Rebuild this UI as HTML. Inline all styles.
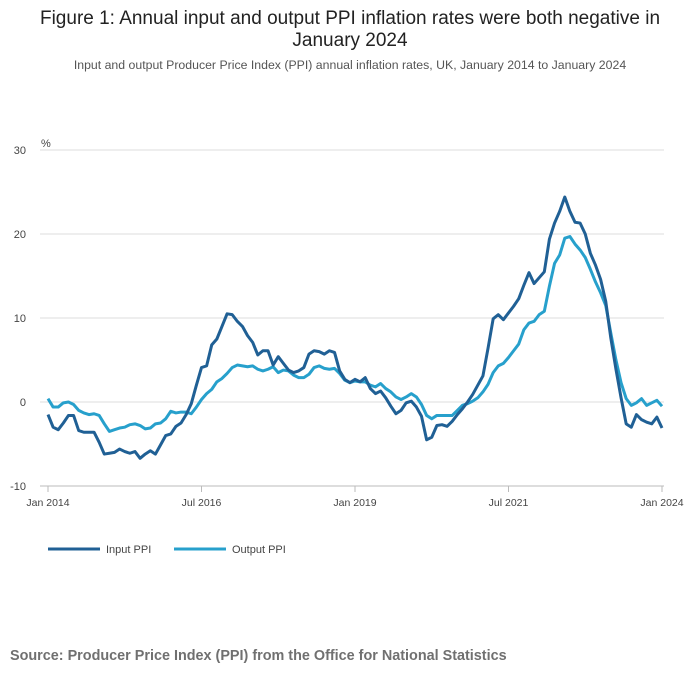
<!DOCTYPE html>
<html><head><meta charset="utf-8">
<style>
body{margin:0;background:#fff;width:700px;height:682px;overflow:hidden;font-family:"Liberation Sans",sans-serif}
</style></head><body>
<svg id="chart" width="700" height="682" xmlns="http://www.w3.org/2000/svg" font-family="Liberation Sans, sans-serif">
<text x="350" y="24" text-anchor="middle" font-size="19" fill="#222">Figure 1: Annual input and output PPI inflation rates were both negative in</text>
<text x="350" y="46" text-anchor="middle" font-size="19" fill="#222">January 2024</text>
<text x="350" y="69" text-anchor="middle" font-size="12.3" fill="#555">Input and output Producer Price Index (PPI) annual inflation rates, UK, January 2014 to January 2024</text>
<text x="41" y="147" font-size="11" fill="#444">%</text>
<g id="grid"></g><g id="xaxis"></g><g id="series"></g>
<g>
<line x1="48" y1="549" x2="100" y2="549" stroke="#206095" stroke-width="3"/>
<text x="106" y="553" font-size="11" fill="#444">Input PPI</text>
<line x1="174" y1="549" x2="226" y2="549" stroke="#27a0cc" stroke-width="3"/>
<text x="232" y="553" font-size="11" fill="#444">Output PPI</text>
</g>
<text x="10" y="660" font-size="14.4" font-weight="bold" fill="#707070">Source: Producer Price Index (PPI) from the Office for National Statistics</text>
</svg>
<script>
const yTicks=[30,20,10,0,-10];
const xTickLabels=["Jan 2014","Jul 2016","Jan 2019","Jul 2021","Jan 2024"];
const xTickMonths=[0,30,60,90,120];
const inputPPI=[-1.5,-3,-3.3,-2.5,-1.6,-1.6,-3.4,-3.6,-3.6,-3.6,-4.8,-6.2,
-6.1,-6.0,-5.6,-5.9,-6.1,-5.9,-6.7,-6.2,-5.8,-6.2,-5.1,-4.0,
-3.8,-2.9,-2.5,-1.5,-0.2,2.0,4.1,4.3,6.8,7.5,9,10.5,
10.4,9.6,9.0,7.9,7.1,5.6,6.1,6.1,4.4,5.4,4.6,3.8,
3.5,3.7,4.1,5.7,6.1,6.0,5.7,6.1,5.9,3.7,2.7,2.3,
2.7,2.4,2.9,1.6,1.0,1.3,0.5,-0.5,-1.4,-1.0,-0.1,0.1,
-0.6,-1.7,-4.5,-4.2,-2.8,-2.7,-2.9,-2.3,-1.5,-0.8,0.0,0.9,
2.0,3.1,6.4,9.9,10.4,9.8,10.6,11.4,12.3,13.9,15.4,14.1,
14.8,15.5,19.4,21.3,22.7,24.4,22.7,21.4,21.3,20.0,17.7,16.3,
14.6,12.0,7.6,3.9,0.5,-2.6,-3.0,-1.5,-2.1,-2.4,-2.6,-1.8,-3.1];
const outputPPI=[0.4,-0.6,-0.6,-0.1,0.0,-0.3,-1.0,-1.3,-1.5,-1.4,-1.6,-2.6,
-3.5,-3.3,-3.1,-3.0,-2.7,-2.6,-2.8,-3.2,-3.1,-2.6,-2.5,-2.0,
-1.1,-1.3,-1.2,-1.2,-1.4,-0.6,0.3,1.0,1.5,2.4,2.8,3.4,
4.1,4.4,4.3,4.2,4.3,3.9,3.7,3.9,4.2,3.5,3.8,3.7,
3.2,2.9,2.9,3.3,4.1,4.3,4.0,3.9,4.0,3.4,2.6,2.3,
2.5,2.4,2.4,2.0,1.8,2.2,1.6,1.2,0.6,0.3,0.6,1.0,
0.6,-0.3,-1.6,-2.0,-1.6,-1.6,-1.6,-1.6,-1.0,-0.4,-0.2,0.1,
0.5,1.2,2.1,3.5,4.3,4.6,5.3,6.1,6.9,8.6,9.4,9.6,
10.4,10.8,13.8,16.5,17.5,19.5,19.7,18.8,18.1,17.2,15.8,14.3,
13.0,11.5,8.2,5.0,2.3,0.4,-0.4,-0.1,0.4,-0.4,-0.1,0.2,-0.5];
const NS="http://www.w3.org/2000/svg";
const x=m=>48+m*(662-48)/120;
const y=v=>402-v*8.4;
function mk(tag,attrs,parent){const e=document.createElementNS(NS,tag);for(const k in attrs)e.setAttribute(k,attrs[k]);parent.appendChild(e);return e;}
const grid=document.getElementById('grid');
yTicks.forEach(t=>{
 const l=mk('line',{x1:40,x2:664,y1:y(t),y2:y(t),stroke:t===-10?'#bbb':'#ddd','stroke-width':1},grid);
 
 
 const tx=mk('text',{x:26,y:y(t)+4,'text-anchor':'end','font-size':11,fill:'#444'},grid);
 tx.textContent=t;
 
 
});
const xa=document.getElementById('xaxis');
xTickMonths.forEach((m,i)=>{
 const l=mk('line',{x1:x(m),x2:x(m),y1:486,y2:492,stroke:'#bbb'},xa);
 
 
 const tx=mk('text',{x:x(m),y:506,'text-anchor':'middle','font-size':10.5,fill:'#444'},xa);
 tx.textContent=xTickLabels[i];
 
 
});
const s=document.getElementById('series');
[[outputPPI,'#27a0cc','output-ppi-line'],[inputPPI,'#206095','input-ppi-line']].forEach(([d,c,n])=>{
 const p=mk('polyline',{points:d.map((v,i)=>x(i)+','+y(v)).join(' '),fill:'none',stroke:c,'stroke-width':3,'stroke-linejoin':'round'},s);
 
 
});
</script>
</body></html>
